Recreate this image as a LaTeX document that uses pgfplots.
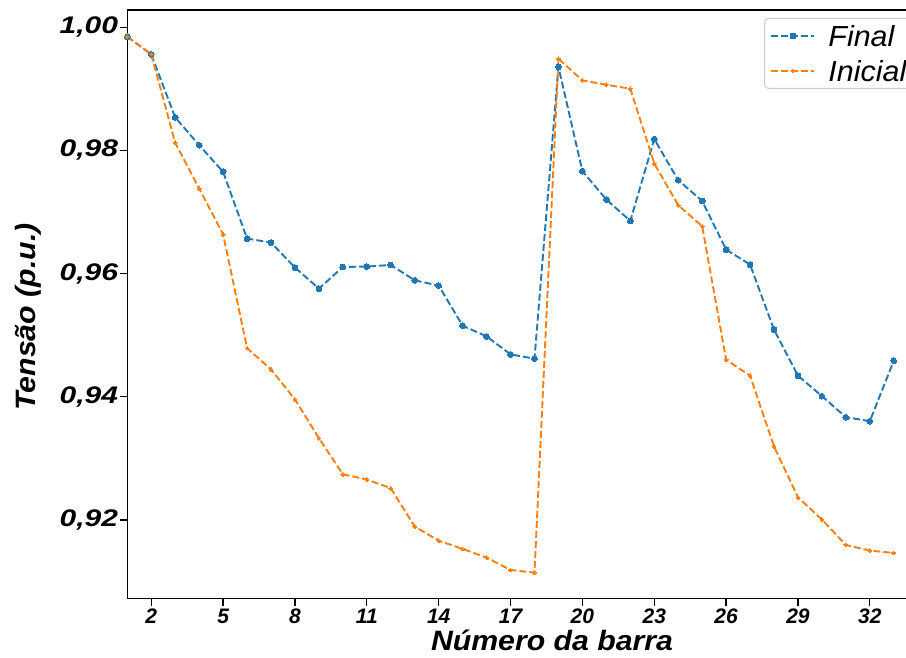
\documentclass[border=0pt]{standalone}
\usepackage{fontspec}
\setmainfont{Liberation Sans}
\newfontfamily\yfont[FakeStretch=1.25]{Liberation Sans}
\newfontfamily\lblfont[FakeStretch=1.08]{Liberation Sans}
\newfontfamily\legfont[FakeStretch=1.05]{Liberation Sans}
\usepackage{pgfplots}
\pgfplotsset{compat=1.18}
\definecolor{tabblue}{HTML}{1F77B4}
\definecolor{taborange}{HTML}{FF7F0E}
\pgfplotstableread{
x y
1 0.99847
2 0.99561
3 0.98537
4 0.98086
5 0.97652
6 0.96569
7 0.96504
8 0.96098
9 0.95756
10 0.96107
11 0.96114
12 0.96140
13 0.95891
14 0.95805
15 0.95154
16 0.94980
17 0.94688
18 0.94618
19 0.99359
20 0.97663
21 0.97203
22 0.96855
23 0.98184
24 0.97517
25 0.97180
26 0.96390
27 0.96146
28 0.95089
29 0.94341
30 0.94010
31 0.93668
32 0.93603
33 0.94585
}\finaltab
\pgfplotstableread{
x y
1 0.99847
2 0.99561
3 0.98124
4 0.97382
5 0.96639
6 0.94790
7 0.94444
8 0.93956
9 0.93327
10 0.92741
11 0.92655
12 0.92514
13 0.91891
14 0.91663
15 0.91528
16 0.91387
17 0.91187
18 0.91143
19 0.99489
20 0.99138
21 0.99067
22 0.99002
23 0.97789
24 0.97111
25 0.96769
26 0.94602
27 0.94341
28 0.93192
29 0.92367
30 0.92005
31 0.91593
32 0.91501
33 0.91463
}\inicialtab
\begin{document}
\begin{tikzpicture}
\path[use as bounding box] (-127.3pt,-58.3pt) rectangle (778.7pt,598.7pt);
\begin{axis}[
  at={(0,0)}, anchor=south west,
  scale only axis, width=778.7pt, height=588.7pt,
  xmin=1, xmax=33.51, ymin=0.9072, ymax=1.00281,
  axis x line*=box, axis y line*=left,
  axis line style={line width=1.3pt, black},
  xtick={2,5,...,32},
  ytick={0.92,0.94,0.96,0.98,1.00},
  yticklabels={{0,92},{0,94},{0,96},{0,98},{1,00}},
  xtick pos=bottom, ytick pos=left,
  tick align=outside, major tick length=7pt,
  every tick/.style={black, line width=1.3pt},
  /pgf/number format/assume math mode=true,
  x tick label style={font=\bfseries\itshape\fontsize{21}{21}\selectfont, inner sep=0pt, yshift=-3pt},
  y tick label style={font=\yfont\bfseries\itshape\fontsize{24}{24}\selectfont, inner sep=0pt, xshift=-2pt},
  xlabel={Número da barra},
  xlabel style={at={([yshift=-52pt]axis description cs:0.5454,0)}, anchor=base, inner sep=0pt,
    font=\lblfont\bfseries\itshape\fontsize{28}{28}\selectfont},
  ylabel={Tensão (p.u.)},
  ylabel style={at={([xshift=-91.5pt]axis description cs:0,0.4785)}, anchor=base, inner sep=0pt,
    font=\lblfont\bfseries\itshape\fontsize{28}{28}\selectfont},
  clip=false,
  legend image code/.code={\draw[mark repeat=2,mark phase=2,#1] plot coordinates {(0pt,0pt) (21.5pt,0pt) (43pt,0pt)};},
  legend cell align=left,
  legend style={at={(axis description cs:0.8177,0.9864)}, anchor=north west,
    font=\legfont\itshape\fontsize{29}{29}\selectfont,
    draw=black!20, line width=1pt, rounded corners=4pt, fill=white,
    inner xsep=6pt, inner ysep=7pt, row sep=14pt, column sep=13pt,
    cells={anchor=west},
    nodes={inner sep=0pt, text height=21pt, text depth=0pt}},
  legend style={/tikz/every odd column/.append style={}},
]
\addplot[color=tabblue, line width=1.9pt, dash pattern=on 7pt off 3pt,
  mark=*, mark size=2.9pt, mark options={solid, fill=tabblue, draw=tabblue, line width=0pt}]
  table[x=x,y=y] {\finaltab};
\addlegendentry{Final}
\addplot[color=taborange, line width=1.9pt, dash pattern=on 7pt off 3pt,
  mark=*, mark size=1.9pt, mark options={solid, fill=taborange, draw=taborange, line width=0pt}]
  table[x=x,y=y] {\inicialtab};
\addlegendentry{\makebox[92pt][l]{Inicial}}
\end{axis}
\end{tikzpicture}
\end{document}
